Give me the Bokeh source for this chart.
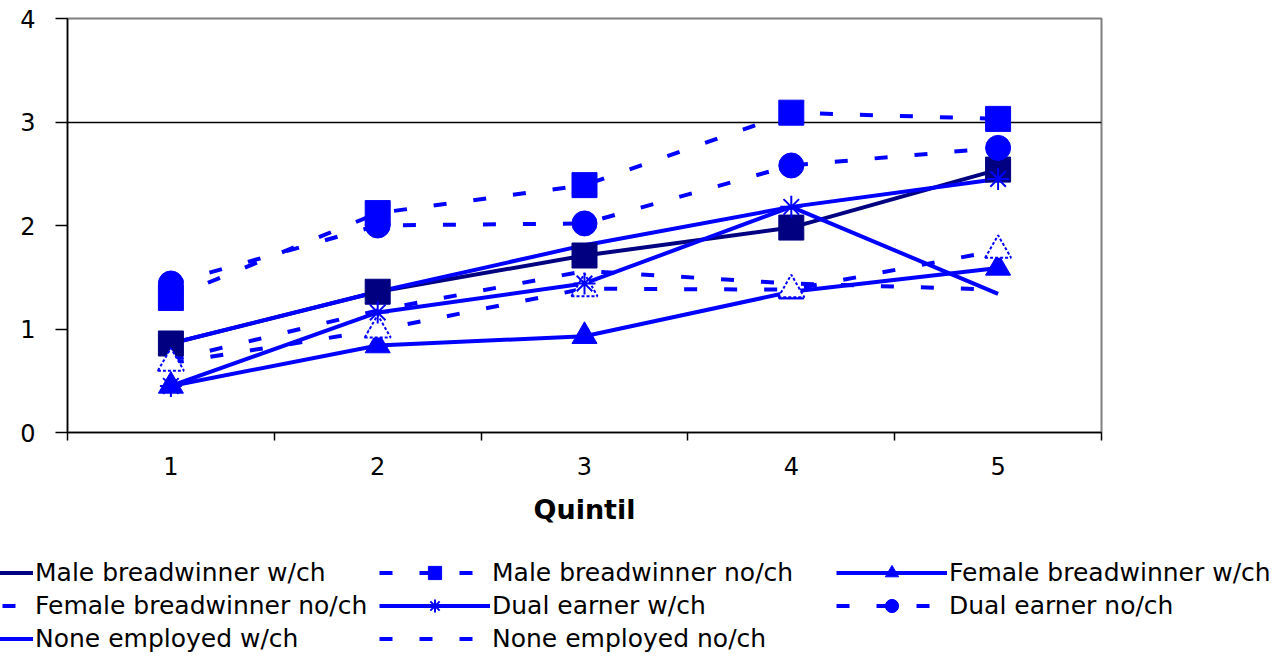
from bokeh.plotting import figure
from bokeh.models import FixedTicker, Legend, LegendItem, Range1d
from bokeh.embed import file_html
from bokeh.resources import INLINE

# ---- data ----
quintiles = [1, 2, 3, 4, 5]
y_ticks = [0, 1, 2, 3, 4]
male_bw_wch = [0.86, 1.36, 1.71, 1.98, 2.54]
male_bw_noch = [1.30, 2.12, 2.39, 3.09, 3.03]
female_bw_wch = [0.45, 0.84, 0.93, 1.36, 1.59]
female_bw_noch = [0.67, 0.99, 1.39, 1.38, 1.76]
dual_wch = [0.45, 1.16, 1.44, 2.18, 2.45]
dual_noch = [1.44, 2.00, 2.02, 2.58, 2.75]
none_wch = [0.86, 1.36, 1.81, 2.18, 1.34]
none_noch = [0.70, 1.18, 1.56, 1.44, 1.38]
labels = ["Male breadwinner w/ch", "Male breadwinner no/ch", "Female breadwinner w/ch",
          "Female breadwinner no/ch", "Dual earner w/ch", "Dual earner no/ch",
          "None employed w/ch", "None employed no/ch"]
values = [male_bw_wch, male_bw_noch, female_bw_wch, female_bw_noch,
          dual_wch, dual_noch, none_wch, none_noch]

NAVY = "#000080"
BLUE = "#0000FF"
DASH = "13 27"
# style per series: color, dash, marker, fill
styles = [
    (NAVY, "solid", "square", NAVY),
    (BLUE, DASH, "square", BLUE),
    (BLUE, "solid", "triangle", BLUE),
    (BLUE, DASH, "triangle", "white"),
    (BLUE, "solid", "asterisk", BLUE),
    (BLUE, DASH, "circle", BLUE),
    (BLUE, "solid", None, None),
    (BLUE, DASH, None, None),
]

FONT = "DejaVu Sans"


def draw_series(fig):
    line_rs, marker_rs = [], []
    for vals, (color, dash, marker, fill) in zip(values, styles):
        line_rs.append(fig.line(quintiles, vals, line_color=color, line_width=4, line_dash=dash))
    for vals, (color, dash, marker, fill) in zip(values, styles):
        if marker is None:
            marker_rs.append(None)
            continue
        if marker == "asterisk":
            r = fig.scatter(quintiles, vals, marker=marker, size=22,
                            line_color=color, line_width=2)
        elif fill == "white":
            r = fig.scatter(quintiles, vals, marker=marker, size=26, fill_color=fill,
                            line_color=color, line_width=2, line_dash="3 2")
        else:
            r = fig.scatter(quintiles, vals, marker=marker, size=25, fill_color=fill,
                            line_color=color, line_width=1)
        marker_rs.append(r)
    return line_rs, marker_rs


# ---------------- main chart ----------------
p = figure(width=1288, height=545, x_range=Range1d(0.5, 5.5), y_range=Range1d(0, 4),
           output_backend="svg", toolbar_location=None,
           min_border_left=67, min_border_right=187, min_border_top=18, min_border_bottom=113)
p.background_fill_color = "white"
p.border_fill_color = "white"
p.outline_line_color = "#808080"
p.outline_line_width = 2

p.xaxis.ticker = FixedTicker(ticks=quintiles,
                             minor_ticks=[q - 0.5 for q in quintiles] + [quintiles[-1] + 0.5])
p.xaxis.major_tick_out = 0
p.xaxis.major_tick_in = 0
p.xaxis.minor_tick_out = 8
p.xaxis.minor_tick_in = 0
p.xaxis.minor_tick_line_color = "black"
p.xaxis.minor_tick_line_width = 1.5
p.xaxis.major_label_standoff = 16
p.xaxis.axis_label = "Quintil"
p.xaxis.axis_label_text_font = FONT
p.xaxis.axis_label_text_font_style = "bold"
p.xaxis.axis_label_text_font_size = "27px"
p.xaxis.axis_label_text_color = "black"
p.xaxis.axis_label_standoff = 16

p.yaxis.ticker = FixedTicker(ticks=y_ticks, minor_ticks=[])
p.yaxis.major_tick_out = 12
p.yaxis.major_tick_in = 0
p.yaxis.major_tick_line_width = 1.5
p.yaxis.major_label_standoff = 20

for ax in (p.xaxis, p.yaxis):
    ax.axis_line_color = "black"
    ax.axis_line_width = 1.5
    ax.major_label_text_font = FONT
    ax.major_label_text_font_size = "24px"
    ax.major_label_text_color = "black"

p.xgrid.visible = False
p.ygrid.ticker = FixedTicker(ticks=[3], minor_ticks=[])
p.ygrid.grid_line_color = "black"
p.ygrid.grid_line_width = 1.5

draw_series(p)

# ---------------- legend strip (series kept out of view; only the legend shows) ----------------
pl = figure(width=1288, height=112, x_range=Range1d(100, 101), y_range=Range1d(100, 101),
            output_backend="svg", toolbar_location=None,
            x_axis_location=None, y_axis_location=None,
            min_border_left=0, min_border_right=0, min_border_top=0, min_border_bottom=0)
pl.grid.visible = False
pl.outline_line_color = None
pl.background_fill_color = "white"
pl.border_fill_color = "white"
l_lines, l_markers = draw_series(pl)

# three legend columns, entries filled row by row as in the original
col_x = [-78, 379, 836]
for c in range(3):
    idx = list(range(c, len(labels), 3))
    items = []
    for i in idx:
        rs = [l_lines[i]] + ([l_markers[i]] if l_markers[i] is not None else [])
        items.append(LegendItem(label=labels[i], renderers=rs))
    bottom = 2 + 33 * (3 - len(idx))
    leg = Legend(items=items, location=(col_x[c], bottom),
                 glyph_width=111, glyph_height=33, label_standoff=2,
                 padding=0, margin=0, spacing=0,
                 background_fill_alpha=0, border_line_alpha=0,
                 label_text_font=FONT, label_text_font_size="25px",
                 label_text_color="black")
    pl.add_layout(leg)

open("out.html", "w").write(file_html([p, pl], INLINE))
